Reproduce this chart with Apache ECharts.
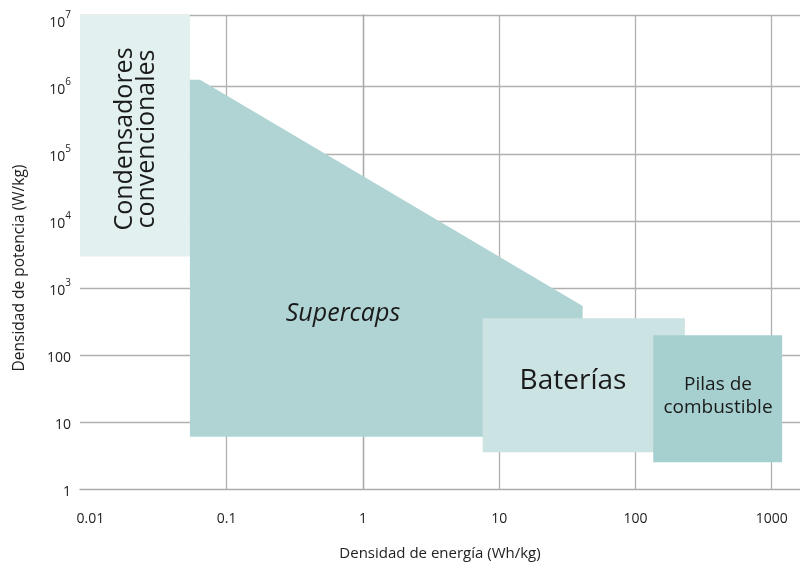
<!DOCTYPE html>
<html>
<head>
<meta charset="utf-8">
<script src="https://cdn.jsdelivr.net/npm/echarts@6/dist/echarts.min.js"></script>
<style>html,body{margin:0;padding:0;background:#fff}#c{width:800px;height:566px}</style>
</head>
<body>
<div id="c"></div>
<script>
// Tick values and labels
const xTickValues = [0.01, 0.1, 1, 10, 100, 1000];
const xTickLabels = ['0.01', '0.1', '1', '10', '100', '1000'];
const xGridValues = [0.1, 1, 10, 100, 1000];
const yTickValues = [1, 10, 100, 1e3, 1e4, 1e5, 1e6, 1e7];
const yTickLabels = ['1', '10', '100', '10|3', '10|4', '10|5', '10|6', '10|7'];
const yGridValues = [10, 100, 1e3, 1e4, 1e5, 1e6];
const xRange = [0.00838, 1615];
const yRange = [1, 1.175e7];

// Regions: [energy density Wh/kg, power density W/kg]
const condensadores = [[0.005, 2940], [0.0537, 2940], [0.0537, 2e7], [0.005, 2e7]];
const supercaps = [[0.0537, 6.0], [0.0537, 1.27e6], [0.0637, 1.27e6], [41.0, 535], [41.0, 6.0]];
const baterias = [[7.57, 3.52], [230.7, 3.52], [230.7, 351], [7.57, 351]];
const pilas = [[135.2, 2.5], [1194, 2.5], [1194, 196], [135.2, 196]];

const regionNames = ['Condensadores convencionales', 'Supercaps', 'Baterías', 'Pilas de combustible'];
const regionData = [condensadores, supercaps, baterias, pilas];
const regionColors = ['#e3f0f0', '#b0d4d4', '#cce3e3', '#a6cfcf'];

const L = Math.log10;
const chart = echarts.init(document.getElementById('c'));
const FONT = '"Open Sans", "Noto Sans", sans-serif';

const series = regionData.map((pts, i) => ({
  type: 'custom',
  name: regionNames[i],
  clip: true,
  silent: true,
  data: [0],
  renderItem: function (params, api) {
    const points = pts.map(p => api.coord([L(p[0]), L(p[1])]));
    return {
      type: 'polygon',
      shape: { points: points },
      style: { fill: regionColors[i], stroke: null }
    };
  }
}));

const option = {
  animation: false,
  backgroundColor: '#fff',
  grid: { left: 80, right: 0, top: 15, bottom: 71, containLabel: false },
  xAxis: {
    type: 'value',
    min: L(xRange[0]), max: L(xRange[1]),
    name: 'Densidad de energía (Wh/kg)',
    nameLocation: 'middle', nameGap: 57,
    nameTextStyle: { fontFamily: FONT, fontSize: 15, color: '#222' },
    axisLine: { show: true, lineStyle: { color: '#aaaaaa', width: 1.3 } },
    axisTick: { show: false, customValues: xGridValues.map(L) },
    axisLabel: {
      customValues: xTickValues.map(L), margin: 23,
      fontFamily: FONT, fontSize: 14, color: '#222',
      formatter: v => { const i = xTickValues.findIndex(t => Math.abs(L(t) - v) < 1e-6); return i >= 0 ? xTickLabels[i] : ''; }
    },
    splitLine: { show: true, lineStyle: { color: '#b0b0b0', width: 1.3 } }
  },
  yAxis: {
    type: 'value',
    min: L(yRange[0]), max: L(yRange[1]),
    axisLine: { show: true, lineStyle: { color: '#aaaaaa', width: 1.3 } },
    axisTick: { show: false, customValues: yGridValues.map(L).concat([L(yRange[1])]) },
    axisLabel: {
      customValues: yTickValues.map(L), margin: 9,
      fontFamily: FONT, fontSize: 14, color: '#222',
      formatter: v => {
        const i = yTickValues.findIndex(t => Math.abs(L(t) - v) < 1e-6);
        if (i < 0) return '';
        const s = yTickLabels[i];
        if (s.indexOf('|') >= 0) { const p = s.split('|'); return '{b|' + p[0] + '}{s|' + p[1] + '}'; }
        return '{b|' + s + '}';
      },
      rich: {
        b: { fontFamily: FONT, fontSize: 14, color: '#222', lineHeight: 20, verticalAlign: 'bottom' },
        s: { fontFamily: FONT, fontSize: 10, color: '#222', lineHeight: 20, verticalAlign: 'top' }
      }
    },
    splitLine: { show: true, lineStyle: { color: '#b0b0b0', width: 1.3 } }
  },
  series: series,
  graphic: [
    { type: 'text', x: 20, y: 268, rotation: Math.PI / 2, z: 100,
      style: { text: 'Densidad de potencia (W/kg)', fontFamily: FONT, fontSize: 15.5, fill: '#222', textAlign: 'center', textVerticalAlign: 'middle' } },
    { type: 'text', x: 136, y: 139, rotation: Math.PI / 2, z: 100,
      style: { text: 'Condensadores\nconvencionales', fontFamily: FONT, fontSize: 25, lineHeight: 22, fill: '#1a1a1a', textAlign: 'center', textVerticalAlign: 'middle' } },
    { type: 'text', x: 343, y: 314, z: 100,
      style: { text: 'Supercaps', fontFamily: FONT, fontStyle: 'italic', fontSize: 25, fill: '#1a1a1a', textAlign: 'center', textVerticalAlign: 'middle' } },
    { type: 'text', x: 573, y: 381, z: 100,
      style: { text: 'Baterías', fontFamily: FONT, fontSize: 28, fill: '#1a1a1a', textAlign: 'center', textVerticalAlign: 'middle' } },
    { type: 'text', x: 718, y: 396, z: 100,
      style: { text: 'Pilas de\ncombustible', fontFamily: FONT, fontSize: 19, lineHeight: 23, fill: '#1a1a1a', textAlign: 'center', textVerticalAlign: 'middle' } }
  ]
};
chart.setOption(option);
</script>
</body>
</html>
